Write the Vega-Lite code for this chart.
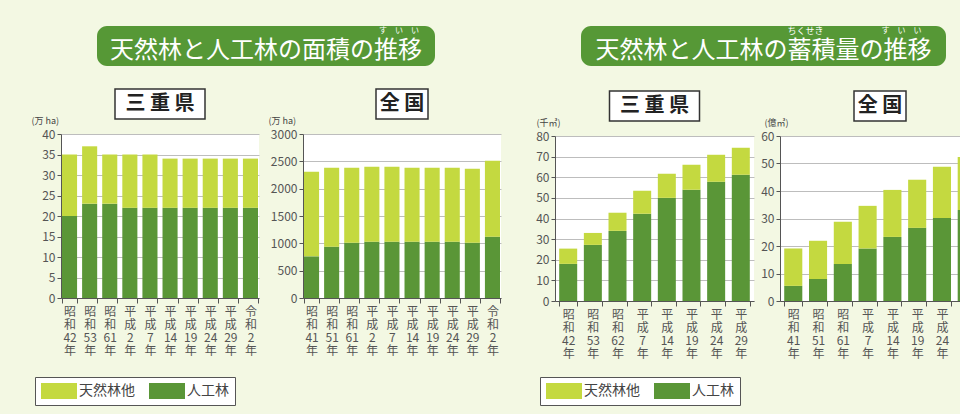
{
  "$schema": "https://vega.github.io/schema/vega-lite/v6.json",
  "background": "#f3f8e3",
  "padding": {"left": 31, "top": 26, "right": 0, "bottom": 8},
  "datasets": {
    "area_mie": [
      {"period": "昭和42年", "type": "人工林", "value": 20}, {"period": "昭和42年", "type": "天然林他", "value": 15},
      {"period": "昭和53年", "type": "人工林", "value": 23}, {"period": "昭和53年", "type": "天然林他", "value": 14},
      {"period": "昭和61年", "type": "人工林", "value": 23}, {"period": "昭和61年", "type": "天然林他", "value": 12},
      {"period": "平成2年", "type": "人工林", "value": 22}, {"period": "平成2年", "type": "天然林他", "value": 13},
      {"period": "平成7年", "type": "人工林", "value": 22}, {"period": "平成7年", "type": "天然林他", "value": 13},
      {"period": "平成14年", "type": "人工林", "value": 22}, {"period": "平成14年", "type": "天然林他", "value": 12},
      {"period": "平成19年", "type": "人工林", "value": 22}, {"period": "平成19年", "type": "天然林他", "value": 12},
      {"period": "平成24年", "type": "人工林", "value": 22}, {"period": "平成24年", "type": "天然林他", "value": 12},
      {"period": "平成29年", "type": "人工林", "value": 22}, {"period": "平成29年", "type": "天然林他", "value": 12},
      {"period": "令和2年", "type": "人工林", "value": 22}, {"period": "令和2年", "type": "天然林他", "value": 12}
    ],
    "area_japan": [
      {"period": "昭和41年", "type": "人工林", "value": 762}, {"period": "昭和41年", "type": "天然林他", "value": 1549},
      {"period": "昭和51年", "type": "人工林", "value": 939}, {"period": "昭和51年", "type": "天然林他", "value": 1445},
      {"period": "昭和61年", "type": "人工林", "value": 1012}, {"period": "昭和61年", "type": "天然林他", "value": 1372},
      {"period": "平成2年", "type": "人工林", "value": 1030}, {"period": "平成2年", "type": "天然林他", "value": 1372},
      {"period": "平成7年", "type": "人工林", "value": 1030}, {"period": "平成7年", "type": "天然林他", "value": 1372},
      {"period": "平成14年", "type": "人工林", "value": 1030}, {"period": "平成14年", "type": "天然林他", "value": 1354},
      {"period": "平成19年", "type": "人工林", "value": 1030}, {"period": "平成19年", "type": "天然林他", "value": 1354},
      {"period": "平成24年", "type": "人工林", "value": 1030}, {"period": "平成24年", "type": "天然林他", "value": 1354},
      {"period": "平成29年", "type": "人工林", "value": 1012}, {"period": "平成29年", "type": "天然林他", "value": 1354},
      {"period": "令和2年", "type": "人工林", "value": 1122}, {"period": "令和2年", "type": "天然林他", "value": 1390}
    ],
    "stock_mie": [
      {"period": "昭和42年", "type": "人工林", "value": 18.0}, {"period": "昭和42年", "type": "天然林他", "value": 7.4},
      {"period": "昭和53年", "type": "人工林", "value": 27.2}, {"period": "昭和53年", "type": "天然林他", "value": 5.8},
      {"period": "昭和62年", "type": "人工林", "value": 34.0}, {"period": "昭和62年", "type": "天然林他", "value": 8.8},
      {"period": "平成7年", "type": "人工林", "value": 42.3}, {"period": "平成7年", "type": "天然林他", "value": 11.1},
      {"period": "平成14年", "type": "人工林", "value": 50.0}, {"period": "平成14年", "type": "天然林他", "value": 11.7},
      {"period": "平成19年", "type": "人工林", "value": 53.9}, {"period": "平成19年", "type": "天然林他", "value": 12.2},
      {"period": "平成24年", "type": "人工林", "value": 57.8}, {"period": "平成24年", "type": "天然林他", "value": 13.1},
      {"period": "平成29年", "type": "人工林", "value": 61.2}, {"period": "平成29年", "type": "天然林他", "value": 13.1}
    ],
    "stock_japan": [
      {"period": "昭和41年", "type": "人工林", "value": 5.5}, {"period": "昭和41年", "type": "天然林他", "value": 13.6},
      {"period": "昭和51年", "type": "人工林", "value": 8.0}, {"period": "昭和51年", "type": "天然林他", "value": 13.9},
      {"period": "昭和61年", "type": "人工林", "value": 13.5}, {"period": "昭和61年", "type": "天然林他", "value": 15.3},
      {"period": "平成7年", "type": "人工林", "value": 19.1}, {"period": "平成7年", "type": "天然林他", "value": 15.5},
      {"period": "平成14年", "type": "人工林", "value": 23.3}, {"period": "平成14年", "type": "天然林他", "value": 17.1},
      {"period": "平成19年", "type": "人工林", "value": 26.6}, {"period": "平成19年", "type": "天然林他", "value": 17.5},
      {"period": "平成24年", "type": "人工林", "value": 30.2}, {"period": "平成24年", "type": "天然林他", "value": 18.6},
      {"period": "平成29年", "type": "人工林", "value": 33.1}, {"period": "平成29年", "type": "天然林他", "value": 19.3}
    ]
  },
  "config": {
    "font": "Noto Sans CJK JP",
    "view": {"stroke": null},
    "axisY": {
      "grid": true, "gridColor": "#bdbdbd", "gridWidth": 1,
      "domainColor": "#555", "tickColor": "#555", "tickSize": 4,
      "labelPadding": 2, "labelFontSize": 12, "labelColor": "#555", "format": "d",
      "titleAngle": 0, "titleAlign": "left", "titleBaseline": "alphabetic",
      "titleY": -11, "titleFontSize": 9, "titleFontWeight": "normal", "titleColor": "#444"
    },
    "axisX": {
      "grid": false, "labelAngle": 0, "tickBand": "extent",
      "domainColor": "#555", "tickColor": "#555", "tickSize": 5,
      "labelFontSize": 12, "labelLineHeight": 13, "labelColor": "#555",
      "labelPadding": 3, "labelBaseline": "top", "labelOverlap": false, "labelBound": false,
      "labelExpr": "[substring(datum.label,0,1), substring(datum.label,1,2), substring(datum.label,2,length(datum.label)-1), substring(datum.label,length(datum.label)-1,length(datum.label))]"
    }
  },
  "spacing": 34,
  "hconcat": [
    {
      "vconcat": [
        {
          "width": 338, "height": 40,
          "view": {"fill": "#569836", "cornerRadius": 10, "stroke": null},
          "data": {"values": [{"t": "天然林と人工林の面積の推移", "r": "す　い　い"}]},
          "encoding": {"y": {"datum": 0, "type": "quantitative", "scale": {"domain": [-1, 1]},
            "axis": {"orient": "right", "domain": false, "ticks": false, "labels": false, "grid": false, "title": " ", "titleY": 20, "minExtent": 0, "maxExtent": 0, "titlePadding": 30}}},
          "layer": [
            {"mark": {"type": "text", "fontSize": 24, "color": "white", "dy": 5}, "encoding": {"text": {"field": "t"}}},
            {"mark": {"type": "text", "fontSize": 8, "color": "white", "dx": 133, "dy": -15}, "encoding": {"text": {"field": "r"}}}
          ]
        },
        {
          "hconcat": [
            {
              "vconcat": [
                {
                  "width": 90, "height": 30,
                  "view": {"fill": "white", "stroke": "#333", "strokeWidth": 1.5},
                  "data": {"values": [{"t": "三 重 県"}]},
                  "mark": {"type": "text", "fontSize": 20, "fontWeight": "bold", "color": "#222"},
                  "encoding": {"text": {"field": "t"}}
                },
                {
                  "width": 198, "height": 164,
                  "view": {"fill": "white", "stroke": null},
                  "data": {"name": "area_mie"},
                  "mark": {"type": "bar"},
                  "encoding": {
                    "x": {"field": "period", "type": "nominal", "sort": null, "title": null, "scale": {"paddingInner": 0.25, "paddingOuter": 0.05}},
                    "y": {"field": "value", "type": "quantitative", "scale": {"domain": [0, 40]}, "axis": {"values": [0, 5, 10, 15, 20, 25, 30, 35, 40], "title": "(万 ha)", "titleX": -30}},
                    "color": {"field": "type", "type": "nominal", "scale": {"domain": ["天然林他", "人工林"], "range": ["#c4d940", "#5a9637"]},
                      "legend": {"orient": "none", "legendX": -26, "legendY": 243, "direction": "horizontal", "columns": 2, "title": null,
                        "symbolType": "M-2.25,-1H2.25V1H-2.25Z", "symbolSize": 256, "symbolStrokeWidth": 0, "symbolOffset": 10, "labelOffset": 12,
                        "labelFontSize": 14, "labelColor": "#444", "columnPadding": 14, "padding": 6, "strokeColor": "#555", "fillColor": "white"}},
                    "order": {"field": "type", "sort": "ascending"}
                  }
                }
              ],
              "bounds": "flush", "center": true, "spacing": 15,
              "resolve": {"legend": {"color": "independent"}}
            },
            {
              "vconcat": [
                {
                  "width": 52, "height": 30,
                  "view": {"fill": "white", "stroke": "#333", "strokeWidth": 1.5},
                  "data": {"values": [{"t": "全 国"}]},
                  "mark": {"type": "text", "fontSize": 20, "fontWeight": "bold", "color": "#222"},
                  "encoding": {"text": {"field": "t"}}
                },
                {
                  "width": 198, "height": 164,
                  "view": {"fill": "white", "stroke": null},
                  "data": {"name": "area_japan"},
                  "mark": {"type": "bar"},
                  "encoding": {
                    "x": {"field": "period", "type": "nominal", "sort": null, "title": null, "scale": {"paddingInner": 0.25, "paddingOuter": 0.05}},
                    "y": {"field": "value", "type": "quantitative", "scale": {"domain": [0, 3000]}, "axis": {"values": [0, 500, 1000, 1500, 2000, 2500, 3000], "title": "(万 ha)", "titleX": -35}},
                    "color": {"field": "type", "type": "nominal", "scale": {"domain": ["天然林他", "人工林"], "range": ["#c4d940", "#5a9637"]}, "legend": null},
                    "order": {"field": "type", "sort": "ascending"}
                  }
                }
              ],
              "bounds": "flush", "center": true, "spacing": 15,
              "resolve": {"legend": {"color": "independent"}}
            }
          ],
          "spacing": 9
        }
      ],
      "center": true, "spacing": 22
    },
    {
      "vconcat": [
        {
          "width": 365, "height": 40,
          "view": {"fill": "#569836", "cornerRadius": 10, "stroke": null},
          "data": {"values": [{"t": "天然林と人工林の蓄積量の推移", "r1": "ちくせき", "r2": "す　い　い"}]},
          "encoding": {"y": {"datum": 0, "type": "quantitative", "scale": {"domain": [-1, 1]},
            "axis": {"orient": "right", "domain": false, "ticks": false, "labels": false, "grid": false, "title": " ", "titleY": 20, "minExtent": 0, "maxExtent": 0, "titlePadding": 8}}},
          "layer": [
            {"mark": {"type": "text", "fontSize": 24, "color": "white", "dy": 5}, "encoding": {"text": {"field": "t"}}},
            {"mark": {"type": "text", "fontSize": 9, "color": "white", "dx": 42, "dy": -15}, "encoding": {"text": {"field": "r1"}}},
            {"mark": {"type": "text", "fontSize": 8, "color": "white", "dx": 138, "dy": -15}, "encoding": {"text": {"field": "r2"}}}
          ]
        },
        {
          "hconcat": [
            {
              "vconcat": [
                {
                  "width": 90, "height": 30,
                  "view": {"fill": "white", "stroke": "#333", "strokeWidth": 1.5},
                  "data": {"values": [{"t": "三 重 県"}]},
                  "mark": {"type": "text", "fontSize": 20, "fontWeight": "bold", "color": "#222"},
                  "encoding": {"text": {"field": "t"}}
                },
                {
                  "width": 199, "height": 165,
                  "view": {"fill": "white", "stroke": null},
                  "data": {"name": "stock_mie"},
                  "mark": {"type": "bar"},
                  "encoding": {
                    "x": {"field": "period", "type": "nominal", "sort": null, "title": null, "scale": {"paddingInner": 0.27, "paddingOuter": 0.17}},
                    "y": {"field": "value", "type": "quantitative", "scale": {"domain": [0, 80]}, "axis": {"values": [0, 10, 20, 30, 40, 50, 60, 70, 80], "title": "(千㎥)", "titleX": -19}},
                    "color": {"field": "type", "type": "nominal", "scale": {"domain": ["天然林他", "人工林"], "range": ["#c4d940", "#5a9637"]},
                      "legend": {"orient": "none", "legendX": -15, "legendY": 241, "direction": "horizontal", "columns": 2, "title": null,
                        "symbolType": "M-2.25,-1H2.25V1H-2.25Z", "symbolSize": 256, "symbolStrokeWidth": 0, "symbolOffset": 10, "labelOffset": 12,
                        "labelFontSize": 14, "labelColor": "#444", "columnPadding": 14, "padding": 6, "strokeColor": "#555", "fillColor": "white"}},
                    "order": {"field": "type", "sort": "ascending"}
                  }
                }
              ],
              "bounds": "flush", "center": true, "spacing": 15,
              "resolve": {"legend": {"color": "independent"}}
            },
            {
              "vconcat": [
                {
                  "width": 52, "height": 30,
                  "view": {"fill": "white", "stroke": "#333", "strokeWidth": 1.5},
                  "data": {"values": [{"t": "全 国"}]},
                  "mark": {"type": "text", "fontSize": 20, "fontWeight": "bold", "color": "#222"},
                  "encoding": {"text": {"field": "t"}}
                },
                {
                  "width": 200, "height": 165,
                  "view": {"fill": "white", "stroke": null},
                  "data": {"name": "stock_japan"},
                  "mark": {"type": "bar"},
                  "encoding": {
                    "x": {"field": "period", "type": "nominal", "sort": null, "title": null, "scale": {"paddingInner": 0.27, "paddingOuter": 0.17}},
                    "y": {"field": "value", "type": "quantitative", "scale": {"domain": [0, 60]}, "axis": {"values": [0, 10, 20, 30, 40, 50, 60], "title": "(億㎥)", "titleX": -16}},
                    "color": {"field": "type", "type": "nominal", "scale": {"domain": ["天然林他", "人工林"], "range": ["#c4d940", "#5a9637"]}, "legend": null},
                    "order": {"field": "type", "sort": "ascending"}
                  }
                }
              ],
              "bounds": "flush", "center": true, "spacing": 15,
              "resolve": {"legend": {"color": "independent"}}
            }
          ],
          "spacing": 6
        }
      ],
      "center": true, "spacing": 24
    }
  ]
}
